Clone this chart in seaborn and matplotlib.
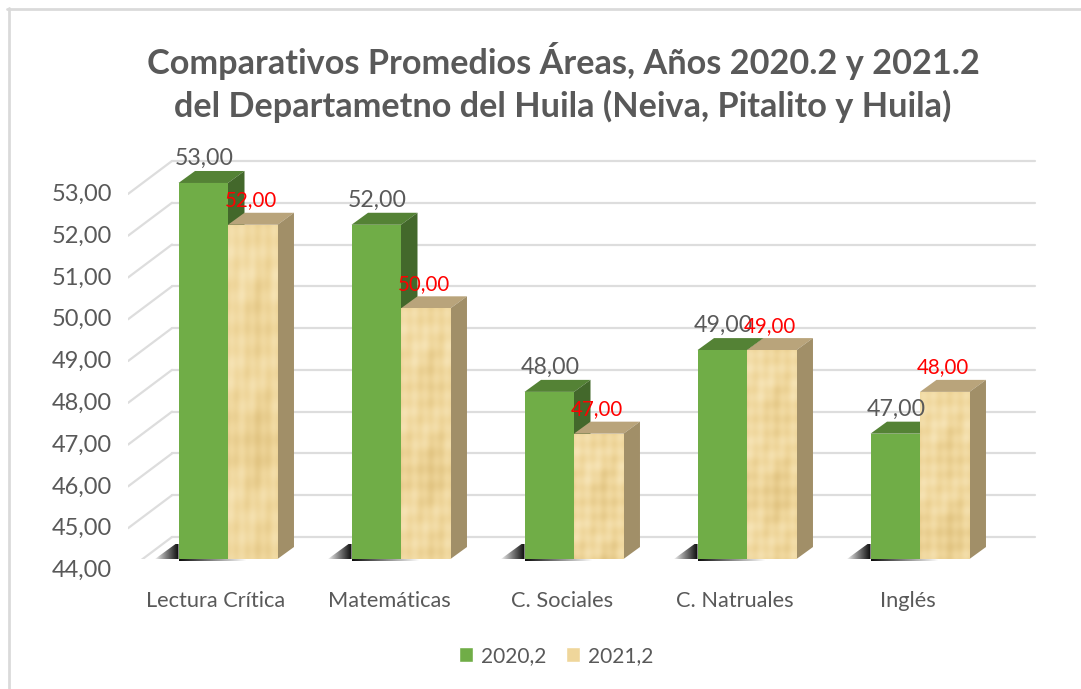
import matplotlib
matplotlib.use('Agg')
import matplotlib.pyplot as plt
import numpy as np
import pandas as pd
import seaborn as sns
from matplotlib.colors import LinearSegmentedColormap
from matplotlib.lines import Line2D
from matplotlib.patches import Polygon, Rectangle
from matplotlib.transforms import ScaledTranslation, offset_copy

areas = ['Lectura Crítica', 'Matemáticas', 'C. Sociales', 'C. Natruales', 'Inglés']
valores_2020 = [53, 52, 48, 49, 47]
valores_2021 = [52, 50, 47, 49, 48]
series = ['2020,2', '2021,2']
y_ticks = [44, 45, 46, 47, 48, 49, 50, 51, 52, 53]
titulo = 'Comparativos Promedios Áreas, Años 2020.2 y 2021.2\ndel Departametno del Huila (Neiva, Pitalito y Huila)'

W, H = 1081, 689
GRIS = '#595959'
VERDE, VERDE_TOP, VERDE_SIDE = '#70AD47', '#548235', '#43682B'
TAN, TAN_TOP, TAN_SIDE = '#EFD69B', '#B9A47B', '#A18F68'

sns.set_theme(style='white')
plt.rcParams['font.family'] = ['Lato', 'DejaVu Sans']

df = pd.DataFrame({
    'area': areas * 2,
    'serie': [series[0]] * 5 + [series[1]] * 5,
    'valor': valores_2020 + valores_2021,
})

fig = plt.figure(figsize=(W / 100, H / 100), dpi=100, facecolor='white')
# axes box in pixels: left 128, right 1035, floor 559, top 140
ax = fig.add_axes([128 / W, 1 - 559 / H, (1035 - 128) / W, (559 - 140) / H])
ax.patch.set_alpha(0)

sns.barplot(data=df, x='area', y='valor', hue='serie', palette=[VERDE, TAN],
            width=0.572, gap=0, saturation=1, ax=ax, legend=False, zorder=4, linewidth=0)

ax.set_xlim(-100 / 173, 807 / 173)
ax.set_ylim(44, 44 + 419 / 41.78)
sns.despine(ax=ax, left=True, bottom=True)
ax.set_xlabel('')
ax.set_ylabel('')
ax.grid(False)


def px(dx, dy):
    # shift in screen pixels (y up) on top of the data transform
    return ax.transData + ScaledTranslation(dx / 100, dy / 100, fig.dpi_scale_trans)


# back wall grid lines and the slanted lines coming forward from it
x0, x1 = ax.get_xlim()
for v in y_ticks:
    ax.plot([x0, x1 - 44 / 173], [v, v], color='#DDDDDD', lw=1.6, transform=px(44, 22), clip_on=False, zorder=1)
    start = ax.transData.transform((x0, v))
    ax.add_line(Line2D([start[0], start[0] + 44], [start[1] - 11, start[1] + 22],
                       color='#DDDDDD', lw=1.6, transform=None, zorder=1))

i_, j_ = np.arange(220), np.arange(60)
weave = np.add.outer(0.5 * np.sin(i_ / 2.3) + 0.7 * np.sin(i_ / 13.1) + 0.5 * np.sin(i_ / 31.0),
                     0.5 * np.sin(j_ / 1.7) + 0.6 * np.sin(j_ / 6.7))
weave = weave + 0.9 * np.sin(np.add.outer(i_ / 9.0, j_ / 5.0)) * np.sin(i_ / 23.0)[:, None]
cmap_tan = LinearSegmentedColormap.from_list('tan', ['#E2C583', TAN, '#F6E3B4'])
cmap_shadow = LinearSegmentedColormap.from_list('sh', [(0, 0, 0, 0), (0, 0, 0, 0.95)])

ux = 16.5 / 173  # bar depth in data units
uy = 12 / 41.78
sx = 1 / 173
sy = 1 / 41.78
bars = [p for p in ax.patches if isinstance(p, Rectangle)]
for i, bar in enumerate(bars):
    l, r = bar.get_x(), bar.get_x() + bar.get_width()
    top = bar.get_height()
    is_2020 = i < 5
    c_top = VERDE_TOP if is_2020 else TAN_TOP
    c_side = VERDE_SIDE if is_2020 else TAN_SIDE
    z = 3 if is_2020 else 3.5
    ax.add_patch(Polygon([(l, top), (l + ux, top + uy), (r + ux, top + uy), (r, top)],
                         fc=c_top, ec='none', zorder=z))
    ax.add_patch(Polygon([(r, top), (r + ux, top + uy), (r + ux, 44 + uy), (r, 44)],
                         fc=c_side, ec='none', zorder=z))
    if is_2020:
        # dark floor shadow left of the green bar, fading out to the left
        grad = np.linspace(0, 1, 40).reshape(1, -1) ** 0.9
        wedge = Polygon([(l - 25 * sx, 44 - 1 * sy), (l - 3 * sx, 44 + 15 * sy), (l, 44 + 15 * sy), (l, 44 - 1 * sy)],
                        fc='none', ec='none', transform=ax.transData)
        ax.add_patch(wedge)
        im = ax.imshow(grad, extent=(l - 25 * sx, l, 44 - 1 * sy, 44 + 15 * sy), cmap=cmap_shadow,
                       aspect='auto', zorder=2)
        im.set_clip_path(wedge)
        # thin line under the bars, fading to the right
        under = np.linspace(1, 0, 60).reshape(1, -1)
        ax.imshow(under, extent=(l, l + 68 * sx, 44 - 2 * sy, 44), cmap=cmap_shadow, aspect='auto',
                  zorder=2, clip_on=False)
    else:
        # paper texture on the tan face
        n = int((top - 44) * 42)
        im = ax.imshow(weave[:n, :50], extent=(l, r, 44, top), cmap=cmap_tan, aspect='auto',
                       interpolation='bilinear', zorder=4.5)
        im.set_clip_path(bar)

ax.set_xlim(x0, x1)
ax.set_ylim(44, 44 + 419 / 41.78)

# data labels
for i, bar in enumerate(bars):
    cx = bar.get_x() + bar.get_width() / 2
    is_2020 = i < 5
    ax.annotate(f'{bar.get_height():.2f}'.replace('.', ','), (cx, bar.get_height()),
                xytext=(0.5 if is_2020 else -1, 17.5), textcoords='offset points',
                ha='center', va='center', fontsize=16.7 if is_2020 else 14.8,
                color=GRIS if is_2020 else '#FF0000', zorder=8, annotation_clip=False)

# axis tick labels
ax.set_yticks(y_ticks, [f'{v:.2f}'.replace('.', ',') for v in y_ticks])
ax.tick_params(axis='y', length=0, pad=11.5, labelsize=17, labelcolor=GRIS)
ax.tick_params(axis='x', length=0, pad=23, labelsize=15.7, labelcolor=GRIS)
for lab in ax.get_yticklabels():
    lab.set_transform(offset_copy(lab.get_transform(), fig=fig, x=0, y=-9.5, units='dots'))
for lab in ax.get_xticklabels():
    lab.set_transform(offset_copy(lab.get_transform(), fig=fig, x=-12, y=0, units='dots'))

# title
fig.text(563 / W, 1 - 82.5 / H, titulo, ha='center', va='center', fontsize=24.7, fontweight='bold',
         color=GRIS, linespacing=1.37)

# legend
handles = [Rectangle((0, 0), 1, 1, fc=VERDE), Rectangle((0, 0), 1, 1, fc=TAN)]
fig.legend(handles, series, loc='center', bbox_to_anchor=(556 / W, 1 - 656 / H), ncol=2, frameon=False,
           fontsize=15, labelcolor=GRIS, handlelength=0.7, handleheight=0.7, handletextpad=0.35,
           columnspacing=0.95)

# sheet frame, only top and left show
fig.add_artist(Line2D([8.5 / W, 8.5 / W], [0, 1 - 8 / H], color='#DADADA', lw=2))
fig.add_artist(Line2D([7.5 / W, 1], [1 - 9 / H, 1 - 9 / H], color='#DADADA', lw=2))

fig.savefig('out.png', dpi=100)
